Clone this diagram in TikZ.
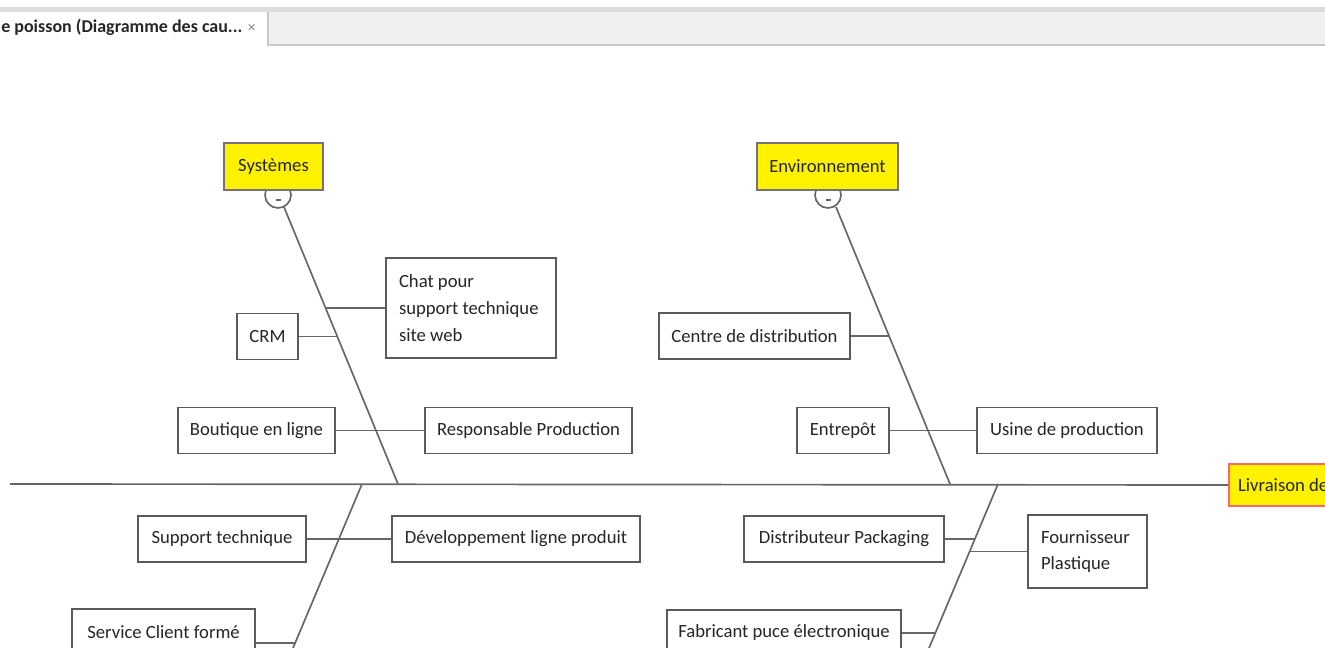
\documentclass[tikz,border=0pt]{standalone}
\usepackage{fontspec}
\setmainfont{Carlito}
\usetikzlibrary{calc}
\definecolor{boxline}{HTML}{5A5A5A}
\definecolor{boneline}{HTML}{666666}
\definecolor{txt}{HTML}{262626}
\definecolor{tabgray}{HTML}{F0F0F0}
\definecolor{tabline}{HTML}{C8C8C8}
\definecolor{band}{HTML}{DCDCDC}
\definecolor{headline}{HTML}{77707F}
\tikzset{
  cause/.style={draw=boxline, line width=1.15pt, fill=white, text=txt, inner sep=0pt,
    font=\fontsize{14}{20}\selectfont, minimum height=34.5pt},
  headbox/.style={draw=headline, line width=1.15pt, fill=yellow, text=txt, inner sep=0pt,
    font=\fontsize{14}{20}\selectfont, minimum height=35pt},
  bone/.style={draw=boneline, line width=1.25pt},
  knob/.style={draw=boneline, line width=1.25pt, fill=white},
}
\begin{document}
\begin{tikzpicture}[x=0.75pt,y=-0.75pt]
\useasboundingbox (0,0) rectangle (1325,648);
\clip (0,0) rectangle (1325,648);
% tab bar
\fill[band] (0,7) rectangle (1325,12);
\fill[tabgray] (268,12) rectangle (1325,45);
\draw[tabline, line width=0.8pt] (268,12) -- (268,45) -- (1325,45);
\node[anchor=west, inner sep=0pt, text=txt, font=\bfseries\fontsize{13.5}{15}\selectfont] (tab) at (1,27) {e poisson (Diagramme des cau... \textcolor{gray}{\mdseries\fontsize{11.5}{12}\selectfont ×}};
% head
\node[headbox, draw=red!60!white, anchor=west, minimum width=110pt, minimum height=31.5pt, inner xsep=7pt, text width=100pt, align=flush left] (liv) at (1228,485) {Livraison de};
% spine
\coordinate (tail) at (10,484);
\draw[bone] (tail) -- (liv.west);
% bone coordinates
\coordinate (sTop) at (284,207);
\coordinate (sBot) at (398,484);
\coordinate (lTop) at (362,484);
\coordinate (lBot) at (288,660);
\coordinate (eTop) at (836,207);
\coordinate (eBot) at (950,484);
\coordinate (rTop) at (998,484);
\coordinate (rBot) at (924,660);
\draw[bone] (sTop) -- (sBot);
\draw[bone] (lTop) -- (lBot);
\draw[bone] (eTop) -- (eBot);
\draw[bone] (rTop) -- (rBot);
% knobs
\draw[knob] (278,195) circle[radius=13];
\draw[knob] (828,195) circle[radius=13];
\coordinate (sk) at (278,200);
\coordinate (ek) at (828,200);
\draw[boneline, line width=1.5pt] ($(sk)+(-2.5,0)$) -- ($(sk)+(2.5,0)$);
\draw[boneline, line width=1.5pt] ($(ek)+(-2.5,0)$) -- ($(ek)+(2.5,0)$);
% category heads
\node[headbox, minimum width=74.25pt] (sys) at (273.5,166.5) {Systèmes};
\node[headbox, minimum width=105.75pt] (env) at (827.5,166.5) {Environnement};
% causes - Systèmes
\node[cause, minimum width=127.5pt, minimum height=75pt, align=flush left, text width=108pt, inner xsep=9.75pt] (chat) at (471,308) {Chat pour\\support technique\\site web};
\node[cause, minimum width=45.75pt] (crm) at (267.5,336.5) {CRM};
\node[cause, minimum width=117.75pt] (bout) at (256.5,430.5) {Boutique en ligne};
\node[cause, minimum width=155.25pt] (resp) at (528.5,430.5) {Responsable Production};
\coordinate (sChat) at (326,308);
\coordinate (sCrm) at (337.5,336.5);
\draw[bone] (sChat) -- (chat.west);
\draw[bone] (crm.east) -- (sCrm);
\draw[bone] (bout.east) -- (resp.west);
% causes - lower left
\node[cause, minimum width=126pt] (supp) at (222,539) {Support technique};
\node[cause, minimum width=186pt] (dev) at (516,539) {Développement ligne produit};
\node[cause, minimum width=137.25pt] (serv) at (163.5,632) {Service Client formé};
\draw[bone] (supp.east) -- (dev.west);
\coordinate (lServ) at (295.5,643);
\draw[bone] (serv.east |- lServ) -- (lServ);
% causes - Environnement
\node[cause, minimum width=143.25pt] (cdist) at (754.5,336) {Centre de distribution};
\node[cause, minimum width=69pt] (entr) at (843,430.5) {Entrepôt};
\node[cause, minimum width=135pt] (usine) at (1067,430.5) {Usine de production};
\coordinate (eCd) at (889.3,336);
\draw[bone] (cdist.east) -- (eCd);
\draw[bone] (entr.east) -- (usine.west);
% causes - lower right
\node[cause, minimum width=150pt] (distp) at (844,539) {Distributeur Packaging};
\node[cause, minimum width=89.25pt, minimum height=54.75pt, align=flush left, text width=69.75pt, inner xsep=9.75pt] (four) at (1087.5,551.5) {Fournisseur\\Plastique};
\node[cause, minimum width=175.5pt] (fab) at (784,633) {Fabricant puce électronique};
\coordinate (rDist) at (975,539);
\coordinate (rFour) at (969.6,551.5);
\coordinate (rFab) at (935.4,633);
\draw[bone] (distp.east) -- (rDist);
\draw[bone] (rFour) -- (four.west);
\draw[bone] (fab.east) -- (rFab);
\end{tikzpicture}
\end{document}
